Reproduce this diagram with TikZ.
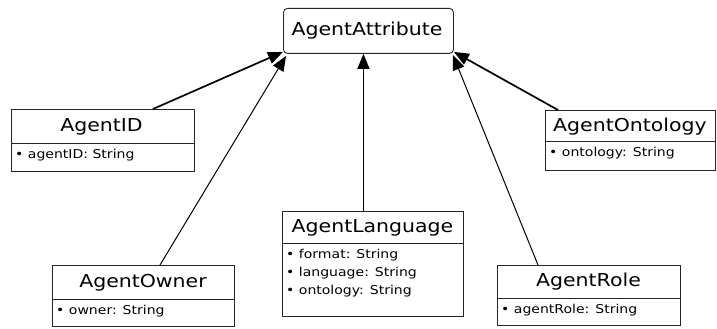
\documentclass[tikz,border=0pt]{standalone}
\usepackage{fontspec}
\newfontfamily\umlfont[FakeStretch=1.15]{DejaVu Sans}
\usetikzlibrary{arrows.meta}
\tikzset{
  classbox/.style={draw=black!85, line width=0.9pt, anchor=north west, inner sep=0pt, fill=white},
  titletext/.style={font=\umlfont\fontsize{17.8}{20}\selectfont, inner sep=0pt, anchor=center},
  attrtext/.style={font=\umlfont\fontsize{12.2}{18}\selectfont, inner sep=0pt, anchor=north west, align=left},
  divider/.style={draw=black!85, line width=0.9pt},
  genthick/.style={line width=1.7pt, -{Triangle[length=15pt,width=12pt]}},
  genthin/.style={line width=1pt, -{Triangle[length=15pt,width=12pt]}}
}
\begin{document}
\begin{tikzpicture}[x=1pt,y=-1pt]
\useasboundingbox (0,0) rectangle (717,329);
\fill[white] (0,0) rectangle (717,329);

% AgentAttribute
\node[classbox, rounded corners=4pt, minimum width=170pt, minimum height=45pt] (attr) at (283,8) {};
\node[titletext] (attrT) at (367,31) {AgentAttribute};

% AgentID
\node[classbox, minimum width=183pt, minimum height=62pt] (id) at (11,109) {};
\draw[divider] (11,143) -- (194,143);
\node[titletext] (idT) at (101.5,127) {AgentID};
\node[attrtext] (idA) at (15,149) {• agentID: String};

% AgentOntology
\node[classbox, minimum width=170pt, minimum height=60pt] (onto) at (545,110) {};
\draw[divider] (545,141) -- (715,141);
\node[titletext] (ontoT) at (630,127) {AgentOntology};
\node[attrtext] (ontoA) at (549,147) {• ontology: String};

% AgentLanguage
\node[classbox, minimum width=181pt, minimum height=105pt] (lang) at (282,211) {};
\draw[divider] (282,243) -- (463,243);
\node[titletext] (langT) at (372.5,228) {AgentLanguage};
\node[attrtext] (langA) at (286,249) {• format: String\\• language: String\\• ontology: String};

% AgentOwner
\node[classbox, minimum width=182pt, minimum height=61pt] (owner) at (52,265) {};
\draw[divider] (52,299) -- (234,299);
\node[titletext] (ownerT) at (143,283) {AgentOwner};
\node[attrtext] (ownerA) at (56,305) {• owner: String};

% AgentRole
\node[classbox, minimum width=183pt, minimum height=60pt] (role) at (497,265) {};
\draw[divider] (497,298) -- (680,298);
\node[titletext] (roleT) at (588.5,282) {AgentRole};
\node[attrtext] (roleA) at (501,304) {• agentRole: String};

% generalisation arrows
\draw[genthick] ([xshift=142pt]id.north west) -- ([yshift=2pt]attr.south west);
\draw[genthin] ([xshift=108pt]owner.north west) -- ([xshift=3pt,yshift=-2pt]attr.south west);
\draw[genthick] ([xshift=-9.5pt]lang.north) -- ([xshift=-5pt]attr.south);
\draw[genthin] ([xshift=41pt]role.north west) -- ([xshift=-1pt,yshift=-1pt]attr.south east);
\draw[genthick] ([xshift=13pt]onto.north west) -- ([yshift=2pt]attr.south east);
\end{tikzpicture}
\end{document}
